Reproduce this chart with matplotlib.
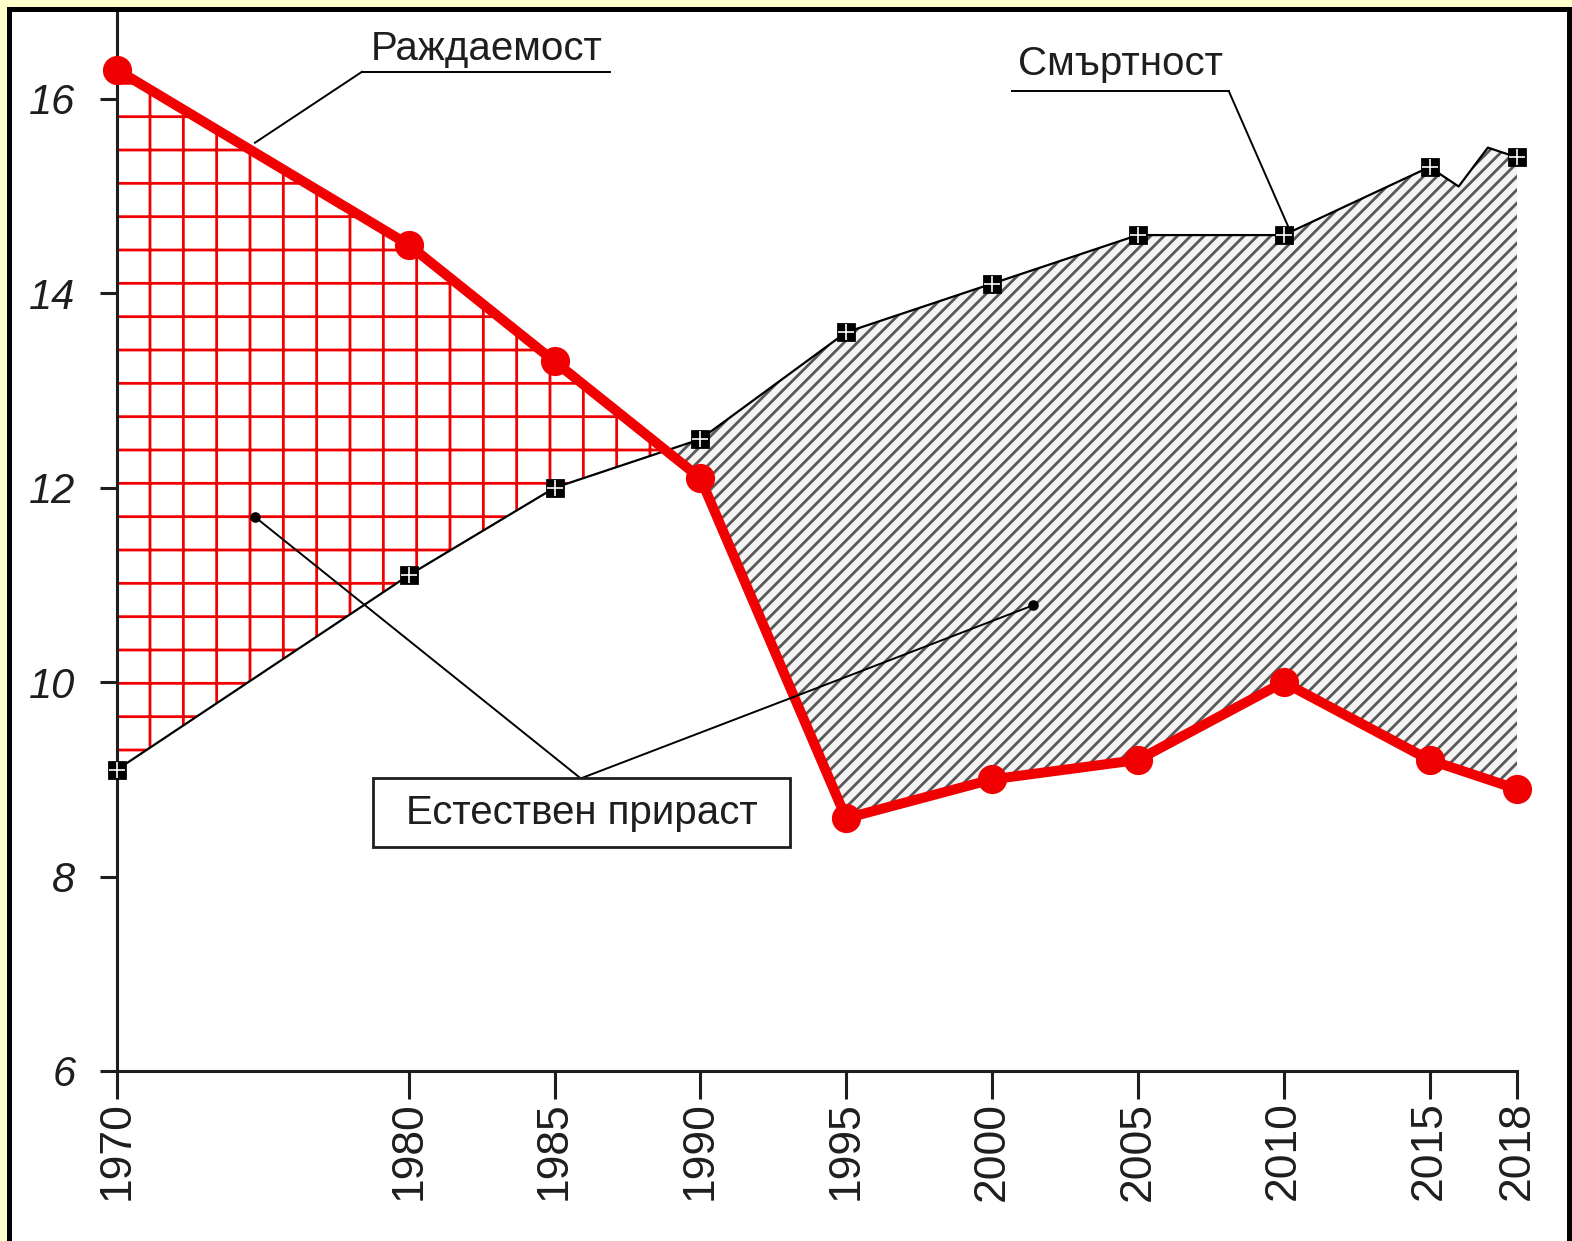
import numpy as np
import matplotlib.pyplot as plt
from matplotlib.patches import Rectangle

# DATA (per 1000 population)

years = [1970, 1980, 1985, 1990, 1995, 2000, 2005, 2010, 2015, 2018]
birth_rate = [16.3, 14.5, 13.3, 12.1, 8.6, 9.0, 9.2, 10.0, 9.2, 8.9]

death_years = [1970, 1980, 1985, 1990, 1995, 2000, 2005, 2010, 2015, 2016, 2017, 2018]
death_rate = [9.1, 11.1, 12.0, 12.5, 13.6, 14.1, 14.6, 14.6, 15.3, 15.1, 15.5, 15.4]

death_marker_years = years
death_marker_rate = [9.1, 11.1, 12.0, 12.5, 13.6, 14.1, 14.6, 14.6, 15.3, 15.4]

y_ticks = [6, 8, 10, 12, 14, 16]

label_birth = "Раждаемост"
label_death = "Смъртност"
label_growth = "Естествен прираст"

# STYLE

plt.rcParams['font.family'] = ['Liberation Sans', 'DejaVu Sans']
plt.rcParams['hatch.linewidth'] = 1.0

RED = '#f00000'
TXT = '#1e1e1e'
W, H = 1572, 1241

fig = plt.figure(figsize=(W / 200, H / 200), dpi=200, facecolor='#ffffcc')

# yellow page with black frame
fig.add_artist(Rectangle((7 / W, -0.05), 1.0, (H - 7) / H + 0.05,
                         transform=fig.transFigure, facecolor='black', edgecolor='none', zorder=-10))
fig.add_artist(Rectangle((12 / W, -0.05), (1567 - 12) / W, (H - 12) / H + 0.05,
                         transform=fig.transFigure, facecolor='white', edgecolor='none', zorder=-9))

ax = fig.add_axes([117 / W, 1 - 1071 / H, (1517 - 117) / W, (1071 - 13) / H])
ax.set_facecolor('none')
ax.set_xlim(1970, 2018)
ax.set_ylim(6, 6 + (1071 - 13) / 97.2)

# FILLS

b = np.interp(death_years, years, birth_rate)
d = np.array(death_rate)

ax.fill_between(death_years, b, d, where=b >= d, interpolate=True,
                facecolor='white', edgecolor=RED, hatch='+', linewidth=0, zorder=1)
ax.fill_between(death_years, b, d, where=d >= b, interpolate=True,
                facecolor='#f4f4f4', edgecolor='#585858', hatch='/////', linewidth=0, zorder=1)

# LINES

ax.plot(death_years, death_rate, color='black', linewidth=0.8, zorder=3, clip_on=False)
ax.plot(death_marker_years, death_marker_rate, linestyle='none', marker='s', markersize=6,
        color='black', zorder=4, clip_on=False)
ax.plot(death_marker_years, death_marker_rate, linestyle='none', marker='+', markersize=6,
        markeredgewidth=0.6, color='white', zorder=5, clip_on=False)

ax.plot(years, birth_rate, color=RED, linewidth=3.6, marker='o', markersize=9.5,
        zorder=6, clip_on=False)

# AXES

for s in ['top', 'right']:
    ax.spines[s].set_visible(False)
for s in ['left', 'bottom']:
    ax.spines[s].set_linewidth(1.1)
    ax.spines[s].set_color(TXT)

ax.set_yticks(y_ticks)
ax.set_yticklabels([str(v) for v in y_ticks], fontsize=15, style='italic')
ax.set_xticks(years)
ax.set_xticklabels([str(v) for v in years], fontsize=16, rotation=90)
ax.tick_params(axis='y', direction='out', length=6, width=1.1, pad=9, colors=TXT)
ax.tick_params(axis='x', direction='out', length=10, width=1.1, pad=1, colors=TXT)

# ANNOTATIONS

lw = 0.7
ax.text(1982.68, 16.40, label_birth, fontsize=14.5, ha='center', va='baseline', color=TXT)
ax.plot([1978.4, 1986.9], [16.28, 16.28], color='black', linewidth=lw, clip_on=False, zorder=7)
ax.plot([1978.4, 1974.73], [16.28, 15.55], color='black', linewidth=lw, clip_on=False, zorder=7)

ax.text(2004.4, 16.25, label_death, fontsize=14.5, ha='center', va='baseline', color=TXT)
ax.plot([2000.68, 2008.12], [16.08, 16.08], color='black', linewidth=lw, clip_on=False, zorder=7)
ax.plot([2008.12, 2010.21], [16.08, 14.65], color='black', linewidth=lw, clip_on=False, zorder=7)

ax.plot([1974.73, 1985.9, 2001.4], [11.70, 9.01, 10.79], color='black', linewidth=lw, zorder=7)
ax.plot([1974.73, 2001.4], [11.70, 10.79], linestyle='none', marker='o', markersize=2.8,
        color='black', zorder=7)
ax.add_patch(Rectangle((1978.78, 8.30), 1993.07 - 1978.78, 9.01 - 8.30, facecolor='white',
                       edgecolor=TXT, linewidth=1.0, zorder=8))
ax.text(1985.93, 8.655, label_growth, fontsize=14.5, ha='center', va='center',
        color=TXT, zorder=9)

fig.savefig("out.png", dpi=200, facecolor=fig.get_facecolor())
